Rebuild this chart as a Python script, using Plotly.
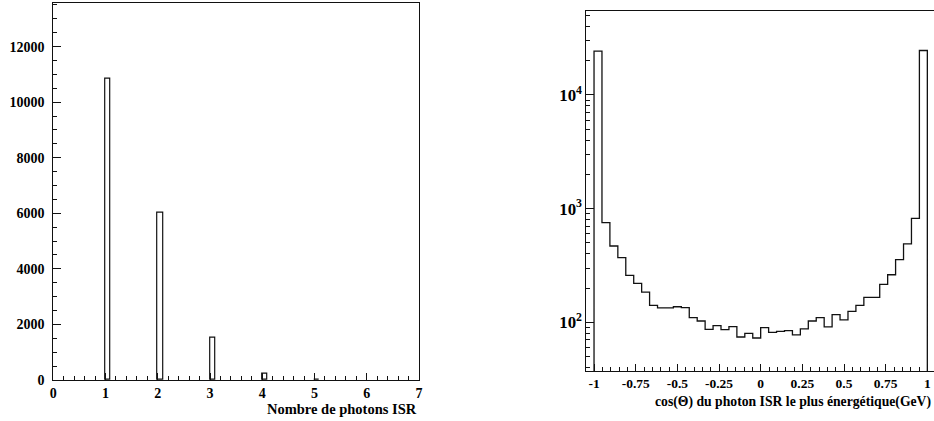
import numpy as np
import plotly.graph_objects as go

# ---- Left panel: number of ISR photons ----
n_photons = [1, 2, 3, 4, 5]
n_events = [10850, 6030, 1520, 240, 20]
left_bin_width = 0.1

# ---- Right panel: cos(theta) of most energetic ISR photon (42 bins on [-1, 1]) ----
cos_counts = [24300, 752, 469, 370, 259, 220, 184, 141, 134, 134, 137, 134.5, 110, 102.7,
              86.8, 93.5, 86.2, 91.6, 74.3, 80.0, 72.8,
              89.8, 81.7, 83.3, 84.5, 77.4, 87.4, 102.7, 110,
              91, 117, 105, 125, 141, 166, 166, 216, 262, 356, 489, 822, 24600]
cos_lo, cos_hi = -1.0, 1.0
right_tickvals = [-1, -0.75, -0.5, -0.25, 0, 0.25, 0.5, 0.75, 1]
right_ticktext = ["-1", "-0.75", "-0.5", "-0.25", "0", "0.25", "0.5", "0.75", "1"]

left_title = "Nombre de photons ISR"
right_title = "cos(\u0398) du photon ISR le plus \u00e9nerg\u00e9tique(GeV)"

W, H = 934, 421
FONT = "Liberation Serif"
INK = "#111111"

edges = np.linspace(cos_lo, cos_hi, len(cos_counts) + 1)
floor = 1.0
step_x = [edges[0]] + list(edges[:-1]) + [edges[-1]]
step_y = [floor] + list(cos_counts) + [floor]

fig = go.Figure()
fig.add_trace(go.Bar(
    x=n_photons, y=n_events, width=left_bin_width, offset=0,
    marker=dict(color="white", line=dict(color=INK, width=1.2)),
    xaxis="x", yaxis="y", showlegend=False, hoverinfo="skip"))
fig.add_trace(go.Scatter(
    x=step_x, y=step_y, mode="lines", line=dict(color=INK, width=1.3, shape="hv"),
    xaxis="x2", yaxis="y2", showlegend=False, hoverinfo="skip"))

def px_x(p):
    return p / W

def px_y(p):
    return 1 - p / H

tickfont_l = dict(family=FONT, size=14, color="black", weight="bold")
tickfont_r = dict(family=FONT, size=13.5, color="black", weight="bold")

common = dict(showgrid=False, zeroline=False, showline=True, linecolor=INK, linewidth=1,
              mirror=True, ticks="inside", tickcolor=INK, tickwidth=1)

fig.update_layout(
    width=W, height=H, margin=dict(l=0, r=0, t=0, b=0),
    paper_bgcolor="white", plot_bgcolor="white", bargap=0,
    xaxis=dict(domain=[px_x(53.3), px_x(419)], range=[0, 7], anchor="y",
               tickmode="linear", tick0=0, dtick=1, ticklen=7,
               minor=dict(dtick=0.2, tick0=0, ticklen=4, ticks="inside", tickcolor=INK),
               tickfont=tickfont_l, automargin=False, **common),
    yaxis=dict(domain=[px_y(380), px_y(2.7)], range=[0, 13580], anchor="x",
               tickmode="linear", tick0=0, dtick=2000, tickformat="d", ticklen=8,
               ticklabelstandoff=5,
               minor=dict(dtick=500, tick0=0, ticklen=4, ticks="inside", tickcolor=INK),
               tickfont=tickfont_l, automargin=False, **common),
    xaxis2=dict(domain=[px_x(585.7), 1.0], range=[-1.05, 1.04], anchor="y2",
                tickmode="array", tickvals=right_tickvals, ticktext=right_ticktext, ticklen=7,
                minor=dict(dtick=0.05, tick0=-1, ticklen=4, ticks="inside", tickcolor=INK),
                tickfont=tickfont_r, automargin=False, **common),
    yaxis2=dict(domain=[px_y(371), px_y(10.7)], type="log",
                range=[np.log10(37.3), np.log10(55100)], anchor="x2",
                dtick=1, exponentformat="power", ticklen=8,
                minor=dict(dtick="D1", ticklen=4, ticks="inside", tickcolor=INK),
                tickfont=tickfont_r, automargin=False, **common),
    annotations=[
        dict(text=left_title, xref="x domain", yref="y domain", x=1, y=0,
             xanchor="right", yanchor="middle", yshift=-29, showarrow=False,
             font=dict(family=FONT, size=14.5, color="black", weight="bold")),
        dict(text=right_title, xref="x2 domain", yref="y2 domain", x=1, y=0,
             xanchor="right", yanchor="middle", yshift=-31, xshift=-1, showarrow=False,
             font=dict(family=FONT, size=13.7, color="black", weight="bold")),
    ],
)

fig.write_html("out.html", config={"displayModeBar": False},
               post_script="document.body.style.margin='0';document.body.style.overflow='hidden';")
